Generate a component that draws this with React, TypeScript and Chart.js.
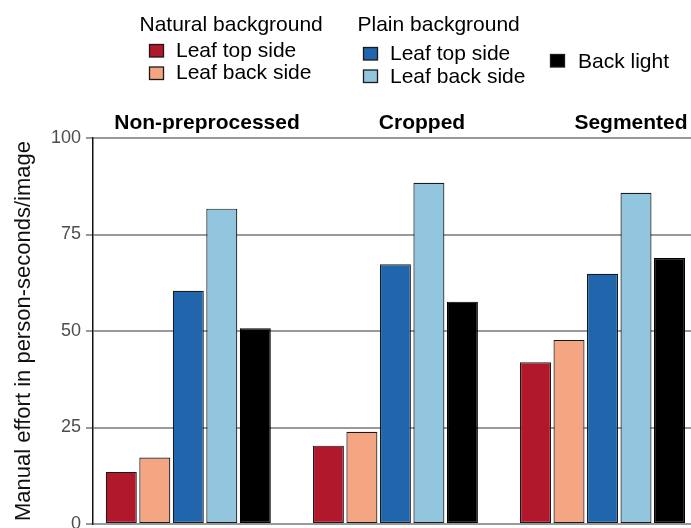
import React, { useEffect, useRef } from 'react';
import { Chart, registerables } from 'chart.js';

Chart.register(...registerables);

// ---- data ----
const categories = ['Non-preprocessed', 'Cropped', 'Segmented'];
const naturalTop = [13.5, 20.3, 41.9];
const naturalBack = [17.2, 23.9, 47.7];
const plainTop = [60.4, 67.3, 64.8];
const plainBack = [81.7, 88.4, 85.8];
const backLight = [50.7, 57.6, 68.9];
const yTicks = [0, 25, 50, 75, 100];
const legendGroups = ['Natural background', 'Plain background'];
const seriesLabels = ['Leaf top side', 'Leaf back side', 'Leaf top side', 'Leaf back side', 'Back light'];
const yTitle = 'Manual effort in person-seconds/image';

// ---- styles / layout ----
const COLORS = ['#b2182b', '#f4a582', '#2166ac', '#92c5de', '#000000'];
const W = 720;
const H = 560;
const AREA_LEFT = 93;
const AREA_TOP = 138;
const AREA_BOTTOM = 524;
const GROUP_SPACING = 207.1;
const FIRST_GROUP_CENTER = 188.3;
const X_MIN = -(FIRST_GROUP_CENTER - AREA_LEFT) / GROUP_SPACING;
const X_MAX = X_MIN + (W - AREA_LEFT) / GROUP_SPACING;
const FONT = '"Liberation Sans", Arial, Helvetica, sans-serif';
const FACET_X = [207, 422, 631];
const FACET_BASELINE = 129;

const overlayPlugin = {
  id: 'overlay',
  afterDraw(chart: any) {
    const ctx = chart.ctx as CanvasRenderingContext2D;
    const ds = chart.data.datasets;
    ctx.save();
    ctx.textBaseline = 'alphabetic';
    ctx.fillStyle = '#000';

    // facet titles
    ctx.font = `bold 21px ${FONT}`;
    ctx.textAlign = 'center';
    categories.forEach((c, i) => ctx.fillText(c, FACET_X[i], FACET_BASELINE));

    // legend
    ctx.font = `21px ${FONT}`;
    ctx.textAlign = 'left';
    ctx.fillText(legendGroups[0], 139.5, 31);
    ctx.fillText(legendGroups[1], 357.5, 31);

    const items = [
      { sx: 149.5, sy: 44.5, tx: 176, ty: 56.7 },
      { sx: 149.5, sy: 67, tx: 176, ty: 79 },
      { sx: 363.5, sy: 47.5, tx: 390, ty: 60 },
      { sx: 363.5, sy: 70, tx: 390, ty: 83 },
      { sx: 550.5, sy: 54.5, tx: 578, ty: 67.5 },
    ];
    items.forEach((it, i) => {
      ctx.fillStyle = ds[i].backgroundColor as string;
      ctx.fillRect(it.sx, it.sy, 14, 12.5);
      ctx.strokeStyle = '#1a1a1a';
      ctx.lineWidth = 1.3;
      ctx.strokeRect(it.sx, it.sy, 14, 12.5);
      ctx.fillStyle = '#000';
      ctx.fillText(ds[i].label, it.tx, it.ty);
    });
    ctx.restore();
  },
};

export default function App() {
  const ref = useRef<HTMLCanvasElement | null>(null);

  useEffect(() => {
    if (!ref.current) return;
    const series = [naturalTop, naturalBack, plainTop, plainBack, backLight];
    const chart = new Chart(ref.current, {
      type: 'bar',
      data: {
        datasets: series.map((vals, k) => ({
          label: seriesLabels[k],
          data: vals.map((v, i) => ({ x: i, y: v })),
          backgroundColor: COLORS[k],
          borderColor: k === 4 ? '#000' : '#1a1a1a',
          borderWidth: 1.2,
          borderSkipped: false,
          categoryPercentage: (5 * 33.5) / GROUP_SPACING,
          barPercentage: 31 / 33.5,
        })),
      },
      options: {
        responsive: false,
        animation: false,
        events: [],
        layout: { padding: { top: AREA_TOP, bottom: H - AREA_BOTTOM, left: 0, right: 0 } },
        plugins: {
          legend: { display: false },
          tooltip: { enabled: false },
          title: { display: false },
        },
        scales: {
          x: {
            type: 'linear',
            display: false,
            offset: false,
            bounds: 'data',
            min: X_MIN,
            max: X_MAX,
            afterBuildTicks: (scale: any) => {
              scale.ticks = categories.map((_, i) => ({ value: i }));
            },
          },
          y: {
            type: 'linear',
            min: 0,
            max: 100,
            afterBuildTicks: (scale: any) => {
              scale.ticks = yTicks.map((v) => ({ value: v }));
            },
            afterFit: (scale: any) => {
              scale.width = AREA_LEFT;
            },
            ticks: {
              color: '#4d4d4d',
              padding: 5,
              font: { family: FONT, size: 18 },
            },
            grid: {
              color: '#999999',
              lineWidth: 2,
              tickLength: 7,
              drawTicks: true,
            },
            border: { display: true, color: '#111', width: 1.5 },
            title: {
              display: true,
              text: yTitle,
              color: '#111',
              font: { family: FONT, size: 22 },
              padding: { top: 11, bottom: 0 },
            },
          },
        },
      },
      plugins: [overlayPlugin],
    });
    return () => chart.destroy();
  }, []);

  return (
    <div style={{ position: 'fixed', left: 0, top: 0, width: W, height: H, background: '#fff' }}>
      <canvas ref={ref} width={W} height={H} style={{ width: W, height: H, display: 'block' }} />
    </div>
  );
}
